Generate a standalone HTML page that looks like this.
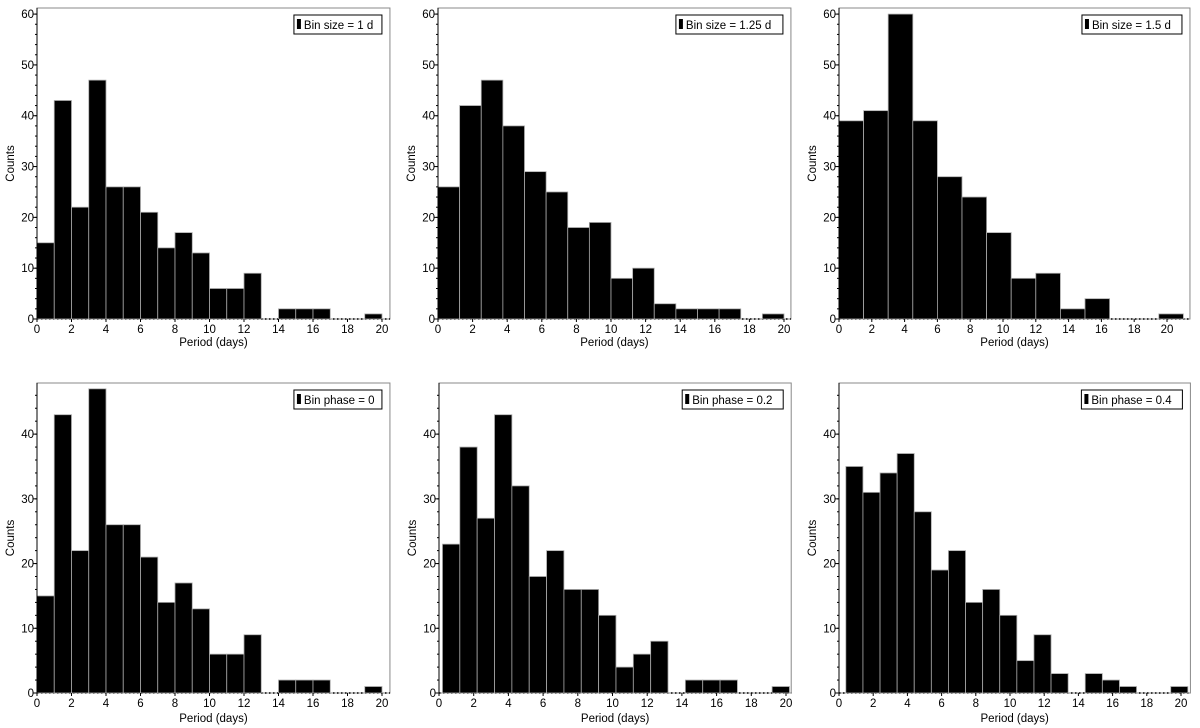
<!DOCTYPE html>
<html><head><meta charset="utf-8"><style>
body{margin:0;background:#fff;}
svg{display:block;font-family:"Liberation Sans",sans-serif;}
</style></head><body>
<svg id="fig" width="1200" height="728" viewBox="0 0 1200 728"></svg>
<script>
// Data: counts per bin for each panel
const countsSize1 = [15,43,22,47,26,26,21,14,17,13,6,6,9,0,2,2,2,0,0,1];
const countsSize125 = [26,42,47,38,29,25,18,19,8,10,3,2,2,2,0,1];
const countsSize15 = [39,41,60,39,28,24,17,8,9,2,4,0,0,1];
const countsPhase0 = [15,43,22,47,26,26,21,14,17,13,6,6,9,0,2,2,2,0,0,1];
const countsPhase02 = [23,38,27,43,32,18,22,16,16,12,4,6,8,0,2,2,2,0,0,1];
const countsPhase04 = [35,31,34,37,28,19,22,14,16,12,5,9,3,0,3,2,1,0,0,1];
const binWidths = [1,1.25,1.5,1,1,1];
const binPhases = [0,0,0,0,0.2,0.4];
const legendLabels = ["Bin size = 1 d","Bin size = 1.25 d","Bin size = 1.5 d","Bin phase = 0","Bin phase = 0.2","Bin phase = 0.4"];
const xTicks = [0,2,4,6,8,10,12,14,16,18,20];
const yTicksTop = [0,10,20,30,40,50,60];
const yTicksBottom = [0,10,20,30,40];

const NS="http://www.w3.org/2000/svg";
const svg=document.getElementById('fig');
function mk(tag,attrs,parent){const e=document.createElementNS(NS,tag);for(const k in attrs)e.setAttribute(k,attrs[k]);(parent||svg).appendChild(e);return e;}

const panels=[
 {counts:countsSize1,ox:37,xs:17.25,xmax:20.46,y0:319,top:8,ymax:61.2,yt:yTicksTop,lab:346},
 {counts:countsSize125,ox:438,xs:17.3,xmax:20.4,y0:319,top:8,ymax:61.2,yt:yTicksTop,lab:346},
 {counts:countsSize15,ox:839,xs:16.4,xmax:21.4,y0:319,top:8,ymax:61.2,yt:yTicksTop,lab:346},
 {counts:countsPhase0,ox:37,xs:17.25,xmax:20.46,y0:693,top:383,ymax:47.9,yt:yTicksBottom,lab:722},
 {counts:countsPhase02,ox:439,xs:17.35,xmax:20.3,y0:693,top:383,ymax:47.9,yt:yTicksBottom,lab:722},
 {counts:countsPhase04,ox:839,xs:17.1,xmax:20.55,y0:693,top:383,ymax:47.9,yt:yTicksBottom,lab:722}
];

panels.forEach((p,pi)=>{
  const g=mk('g',{});
  
  
  const X=v=>p.ox+v*p.xs;
  const ys=(p.y0-p.top)/p.ymax;
  const Y=v=>p.y0-v*ys;
  const right=X(p.xmax);
  const fr=mk('rect',{x:p.ox,y:p.top,width:right-p.ox,height:p.y0-p.top,fill:'none',stroke:'#888','stroke-width':1},g);
  
  
  mk('line',{x1:p.ox,y1:p.y0,x2:right,y2:p.y0,stroke:'#000','stroke-width':1.5,'stroke-dasharray':'1.5,2.5'},g);
  const w=binWidths[pi], ph=binPhases[pi];
  p.counts.forEach((c,i)=>{
    if(c<=0)return;
    let a=ph+i*w, b=a+w;
    if(a<0)a=0;
    const r=mk('rect',{x:X(a),y:Y(c),width:X(b)-X(a),height:p.y0-Y(c),fill:'#000',stroke:'#aaa','stroke-width':0.8},g);
    
    
  });
  mk('line',{x1:p.ox,y1:p.top,x2:p.ox,y2:p.y0,stroke:'#000','stroke-width':1},g);
  for(let v=0;v<=p.ymax;v+=2){mk('line',{x1:p.ox-2,y1:Y(v),x2:p.ox,y2:Y(v),stroke:'#000','stroke-width':1},g);}
  p.yt.forEach(v=>{
    mk('line',{x1:p.ox-4,y1:Y(v),x2:p.ox,y2:Y(v),stroke:'#000','stroke-width':1},g);
    const t=mk('text',{x:p.ox-3,y:Y(v)+4,'font-size':11.5,'text-anchor':'end',fill:'#000'},g);
    t.textContent=v;
    
    
  });
  xTicks.forEach(v=>{
    if(v>p.xmax)return;
    mk('line',{x1:X(v),y1:p.y0,x2:X(v),y2:p.y0+3,stroke:'#000','stroke-width':1},g);
    const t=mk('text',{x:X(v),y:p.y0+14,'font-size':11.5,'text-anchor':'middle',fill:'#000'},g);
    t.textContent=v;
    
    
  });
  const xl=mk('text',{x:(p.ox+right)/2,y:p.lab,'font-size':11.5,'text-anchor':'middle',fill:'#000'},g);
  xl.textContent='Period (days)';
  
  
  const cy=(p.top+p.y0)/2;
  const yl=mk('text',{x:p.ox-23,y:cy,'font-size':11.5,'text-anchor':'middle',fill:'#000',transform:`rotate(-90 ${p.ox-23} ${cy})`},g);
  yl.textContent='Counts';
  
  
  const lw=pi===1?107:(pi===2?100:(pi===0?88:(pi===3?88:101)));
  const lx=right-8-lw, ly=p.top+7;
  const lg=mk('g',{},g);
  
  
  mk('rect',{x:lx,y:ly,width:lw,height:19,fill:'#fff',stroke:'#000','stroke-width':1},lg);
  mk('rect',{x:lx+3,y:ly+4,width:4,height:10,fill:'#000'},lg);
  const lt=mk('text',{x:lx+10,y:ly+14,'font-size':11.5,fill:'#000'},lg);
  lt.textContent=legendLabels[pi];
  
  
});
</script>
</body></html>
